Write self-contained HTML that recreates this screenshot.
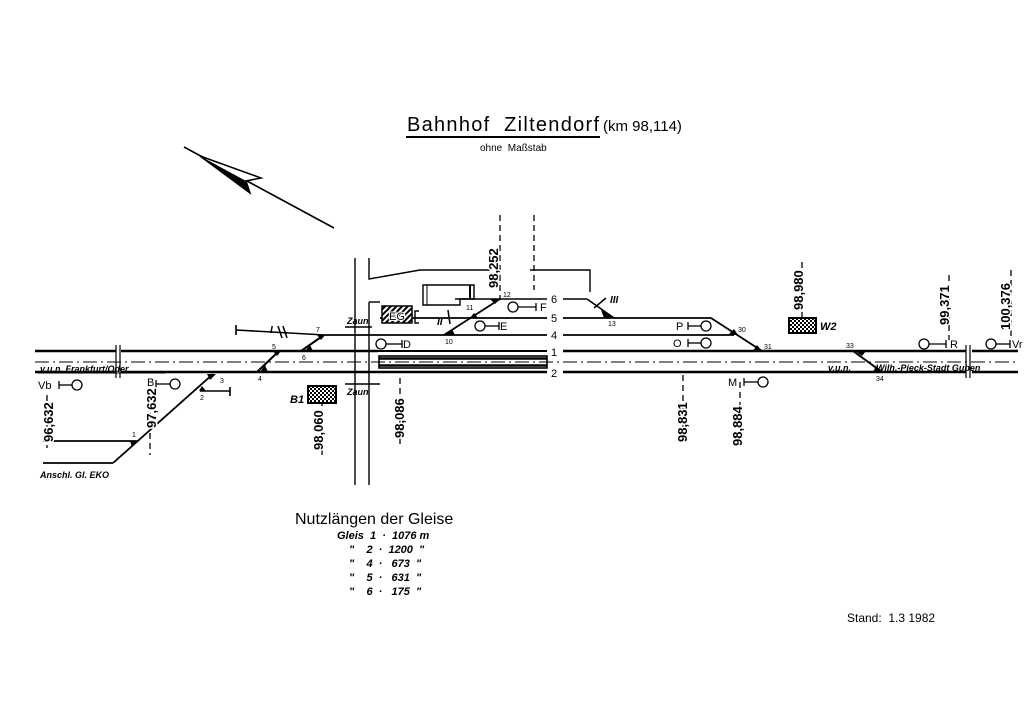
<!DOCTYPE html>
<html><head><meta charset="utf-8"><style>
html,body{margin:0;padding:0;background:#fff}
svg{display:block}
text{font-family:"Liberation Sans","DejaVu Sans",sans-serif;fill:#000;white-space:pre}
.it{font-style:italic}
.km{font-size:13px;font-weight:bold;paint-order:stroke;stroke:#fff;stroke-width:3px}
.sm{font-size:7px}
</style></head><body>
<svg width="1024" height="724" viewBox="0 0 1024 724" xmlns="http://www.w3.org/2000/svg" xml:space="preserve">
<defs>
<pattern id="hat" width="4" height="4" patternUnits="userSpaceOnUse" patternTransform="rotate(45)"><rect width="4" height="4" fill="#fff"/><rect width="2" height="4" fill="#000"/></pattern>
<pattern id="chk" width="4" height="4" patternUnits="userSpaceOnUse"><rect width="4" height="4" fill="#000"/><rect width="2" height="2" fill="#fff"/><rect x="2" y="2" width="2" height="2" fill="#fff"/></pattern>
</defs>

<!-- Title -->
<text x="407" y="131" font-size="20" textLength="192" lengthAdjust="spacing">Bahnhof  Ziltendorf</text>
<line x1="406" y1="137" x2="600" y2="137" stroke="#000" stroke-width="2"/>
<text x="603" y="131" font-size="15">(km 98,114)</text>
<text x="480" y="151" font-size="10">ohne  Maßstab</text>

<!-- North arrow -->
<line x1="184" y1="147" x2="334" y2="228" stroke="#000" stroke-width="1.6"/>
<polygon points="200,156 261,178 246,181 250,193" fill="#fff" stroke="#000" stroke-width="1.5"/>
<polygon points="200,156 246,181 250,193" fill="#000"/>

<g stroke="#000" fill="none">
<line x1="35" y1="351" x2="116" y2="351" stroke-width="2.6"/>
<line x1="121" y1="351" x2="378" y2="351" stroke-width="2.6"/>
<line x1="378" y1="351" x2="547" y2="351" stroke-width="2"/>
<line x1="563" y1="351" x2="966" y2="351" stroke-width="2.4"/>
<line x1="972" y1="351" x2="1018" y2="351" stroke-width="2.4"/>
<line x1="35" y1="372" x2="116" y2="372" stroke-width="2.6"/>
<line x1="121" y1="372" x2="547" y2="372" stroke-width="2.6"/>
<line x1="563" y1="372" x2="966" y2="372" stroke-width="2.4"/>
<line x1="972" y1="372" x2="1018" y2="372" stroke-width="2.4"/>
<line x1="116" y1="345" x2="116" y2="378" stroke-width="1.2"/>
<line x1="120" y1="345" x2="120" y2="378" stroke-width="1.2"/>
<line x1="966" y1="345" x2="966" y2="378" stroke-width="1.2"/>
<line x1="970" y1="345" x2="970" y2="378" stroke-width="1.2"/>
<line x1="35" y1="362" x2="1018" y2="362" stroke-width="1" stroke-dasharray="14,4,2,4"/>
<rect x="379" y="356" width="168" height="12" stroke-width="1.6"/>
<line x1="379" y1="358.5" x2="547" y2="358.5" stroke-width="2.5"/>
<line x1="379" y1="365.5" x2="547" y2="365.5" stroke-width="2.5"/>

<line x1="236" y1="330" x2="325" y2="335" stroke-width="1.6"/>
<line x1="236" y1="325" x2="236" y2="335" stroke-width="1.6"/>
<line x1="325" y1="335" x2="547" y2="335" stroke-width="1.8"/>
<line x1="563" y1="335" x2="734" y2="335" stroke-width="1.8"/>
<line x1="380" y1="318" x2="547" y2="318" stroke-width="1.8"/>
<line x1="563" y1="318" x2="711" y2="318" stroke-width="1.8"/>
<line x1="711" y1="318" x2="762" y2="351" stroke-width="1.8"/>
<line x1="455" y1="299" x2="547" y2="299" stroke-width="1.6"/>
<line x1="563" y1="299" x2="587" y2="299" stroke-width="1.6"/>
<line x1="587" y1="299" x2="614" y2="318" stroke-width="1.6"/>
<line x1="444" y1="335" x2="500" y2="299" stroke-width="1.8"/>
<line x1="257" y1="372" x2="279" y2="351" stroke-width="2"/>
<line x1="301" y1="351" x2="324" y2="335" stroke-width="2"/>
<line x1="213" y1="374" x2="113" y2="463" stroke-width="1.8"/>
<line x1="43" y1="463" x2="113" y2="463" stroke-width="1.8"/>
<line x1="43" y1="441" x2="138" y2="441" stroke-width="1.8"/>
<line x1="200" y1="391" x2="230" y2="391" stroke-width="1.6"/>
<line x1="230" y1="387" x2="230" y2="396" stroke-width="1.6"/>
<line x1="853" y1="351" x2="882" y2="372" stroke-width="2"/>

<line x1="355" y1="258" x2="355" y2="485" stroke-width="1.4"/>
<line x1="369" y1="302" x2="369" y2="485" stroke-width="1.4"/>
<line x1="369" y1="302" x2="380" y2="302" stroke-width="1.4"/>
<line x1="345" y1="327" x2="372" y2="327" stroke-width="1.4"/>
<line x1="345" y1="384" x2="380" y2="384" stroke-width="1.4"/>
<polyline points="369,258 369,279 420,270 490,270" stroke-width="1.4"/>
<polyline points="530,270 590,270 590,292" stroke-width="1.4"/>
<polygon points="423,285 474,285 474,299 460,299 460,305 423,305" stroke-width="1.4"/>
<line x1="427" y1="285" x2="427" y2="305" stroke-width="1"/>
<line x1="470" y1="285" x2="470" y2="299" stroke-width="2"/>
<polyline points="419,311 415,311 415,323 419,323" stroke-width="1.4"/>

<g stroke-width="1.3" stroke-dasharray="6,4">
<line x1="500" y1="215" x2="500" y2="300"/>
<line x1="534" y1="215" x2="534" y2="290"/>
<line x1="150" y1="393" x2="150" y2="455"/>
<line x1="400" y1="378" x2="400" y2="445"/>
<line x1="683" y1="375" x2="683" y2="445"/>
<line x1="740" y1="382" x2="740" y2="445"/>
<line x1="802" y1="262" x2="802" y2="318"/>
<line x1="949" y1="275" x2="949" y2="340"/>
<line x1="1011" y1="270" x2="1011" y2="340"/>
<line x1="47" y1="395" x2="47" y2="448"/>
<line x1="322" y1="400" x2="322" y2="455"/>
</g>

<g stroke-width="1.3" fill="#fff">
<line x1="386" y1="344" x2="402" y2="344"/><line x1="402" y1="340" x2="402" y2="348"/><circle cx="381" cy="344" r="5"/>
<line x1="59" y1="385" x2="72" y2="385"/><line x1="59" y1="381" x2="59" y2="389"/><circle cx="77" cy="385" r="5"/>
<line x1="156" y1="384" x2="170" y2="384"/><line x1="156" y1="380" x2="156" y2="388"/><circle cx="175" cy="384" r="5"/>
<line x1="485" y1="326" x2="499" y2="326"/><line x1="499" y1="322" x2="499" y2="330"/><circle cx="480" cy="326" r="5"/>
<line x1="518" y1="307" x2="536" y2="307"/><line x1="536" y1="303" x2="536" y2="311"/><circle cx="513" cy="307" r="5"/>
<line x1="688" y1="326" x2="701" y2="326"/><line x1="688" y1="322" x2="688" y2="330"/><circle cx="706" cy="326" r="5"/>
<line x1="688" y1="343" x2="701" y2="343"/><line x1="688" y1="339" x2="688" y2="347"/><circle cx="706" cy="343" r="5"/>
<line x1="744" y1="382" x2="758" y2="382"/><line x1="744" y1="378" x2="744" y2="386"/><circle cx="763" cy="382" r="5"/>
<line x1="929" y1="344" x2="946" y2="344"/><line x1="946" y1="340" x2="946" y2="348"/><circle cx="924" cy="344" r="5"/>
<line x1="996" y1="344" x2="1010" y2="344"/><line x1="1010" y1="340" x2="1010" y2="348"/><circle cx="991" cy="344" r="5"/>
</g>
</g>

<g fill="#000">
<polygon points="130,441 138,441 132,447"/>
<polygon points="207,374 216,374 210,380"/>
<polygon points="199,391 206,391 202,386"/>
<polygon points="260,372 268,372 265,365"/>
<polygon points="273,351 281,351 277,356"/>
<polygon points="305,351 313,351 310,345"/>
<polygon points="317,335 325,335 321,340"/>
<polygon points="446,335 455,335 452,329"/>
<polygon points="470,318 478,318 474,313"/>
<polygon points="490,299 500,299 495,304"/>
<polygon points="601,310 614,318 604,318"/>
<polygon points="728,335 738,335 734,329"/>
<polygon points="753,351 762,351 757,345"/>
<polygon points="855,351 866,351 862,356"/>
<polygon points="873,372 883,372 876,366"/>
</g>
<g stroke="#000" stroke-width="1.5">
<line x1="278" y1="326" x2="282" y2="338"/><line x1="283" y1="326" x2="287" y2="338"/>
<line x1="448" y1="310" x2="450" y2="324"/>
<line x1="594" y1="308" x2="606" y2="298"/>
</g>

<rect x="382" y="306" width="30" height="17" fill="url(#hat)" stroke="#000" stroke-width="1.5"/>
<text x="389" y="320" font-size="11" style="paint-order:stroke" stroke="#fff" stroke-width="2">EG</text>
<rect x="308" y="386" width="28" height="17" fill="url(#chk)" stroke="#000" stroke-width="2"/>
<rect x="789" y="318" width="27" height="15" fill="url(#chk)" stroke="#000" stroke-width="2"/>

<g font-size="11">
<text x="403" y="348">D</text><text x="500" y="330">E</text><text x="540" y="311">F</text>
<text x="676" y="330">P</text><text x="673" y="347">O</text><text x="728" y="386">M</text>
<text x="950" y="348">R</text><text x="1012" y="348">Vr</text>
<text x="38" y="389">Vb</text><text x="147" y="386">B</text>
<text x="551" y="303">6</text><text x="551" y="322">5</text><text x="551" y="339">4</text>
<text x="551" y="356">1</text><text x="551" y="377">2</text>
</g>
<g class="sm">
<text x="132" y="437">1</text><text x="200" y="400">2</text><text x="220" y="383">3</text>
<text x="258" y="381">4</text><text x="272" y="349">5</text><text x="302" y="360">6</text>
<text x="316" y="332">7</text><text x="445" y="344">10</text><text x="466" y="310">11</text>
<text x="503" y="297">12</text><text x="608" y="326">13</text><text x="738" y="332">30</text>
<text x="764" y="349">31</text><text x="846" y="348">33</text><text x="876" y="381">34</text>
</g>
<g class="it" font-size="10" font-weight="bold">
<text x="270" y="333">I</text><text x="437" y="325">II</text><text x="610" y="303">III</text>
<text x="290" y="403" font-size="11">B1</text><text x="820" y="330" font-size="11">W2</text>
</g>
<g class="it" font-size="9" font-weight="bold">
<text x="347" y="324">Zaun</text><text x="347" y="395">Zaun</text>
<text x="40" y="372">v.u.n. Frankfurt/Oder</text>
<line x1="38" y1="373" x2="165" y2="373" stroke="#000" stroke-width="1"/>
<text x="828" y="371">v.u.n.</text>
<text x="876" y="371">Wilh.-Pieck-Stadt Guben</text>
<text x="40" y="478">Anschl. Gl. EKO</text>
</g>

<g class="km">
<text transform="translate(53,442) rotate(-90)">96,632</text>
<text transform="translate(156,428) rotate(-90)">97,632</text>
<text transform="translate(323,450) rotate(-90)">98,060</text>
<text transform="translate(404,438) rotate(-90)">98,086</text>
<text transform="translate(498,288) rotate(-90)">98,252</text>
<text transform="translate(687,442) rotate(-90)">98,831</text>
<text transform="translate(742,446) rotate(-90)">98,884</text>
<text transform="translate(803,310) rotate(-90)">98,980</text>
<text transform="translate(949,325) rotate(-90)">99,371</text>
<text transform="translate(1010,330) rotate(-90)">100,376</text>
</g>

<text x="295" y="524" font-size="16">Nutzlängen der Gleise</text>
<g class="it" font-size="11" font-weight="bold">
<text x="337" y="539">Gleis  1  ·  1076 m</text>
<text x="349" y="553">"    2  ·  1200  "</text>
<text x="349" y="567">"    4  ·   673  "</text>
<text x="349" y="581">"    5  ·   631  "</text>
<text x="349" y="595">"    6  ·   175  "</text>
</g>
<text x="847" y="622" font-size="12">Stand:  1.3 1982</text>
</svg>
</body></html>
